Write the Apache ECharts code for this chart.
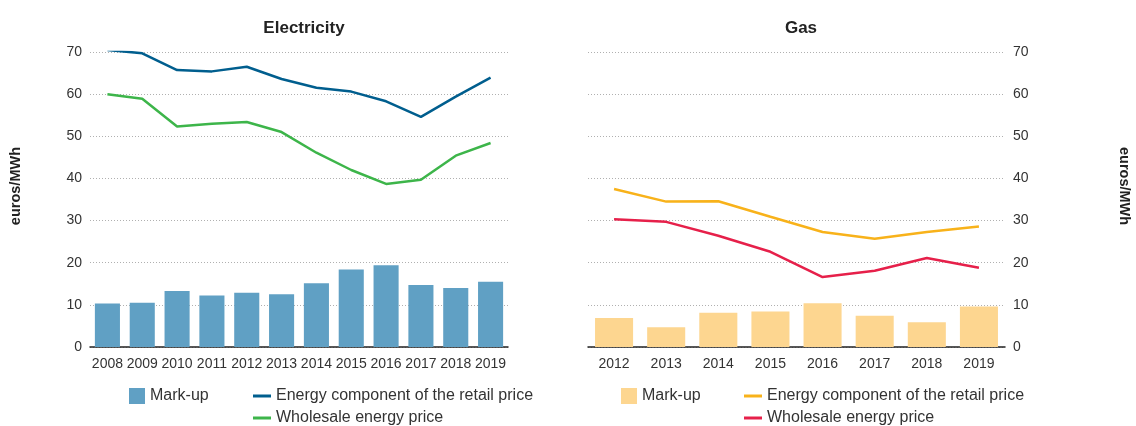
<!DOCTYPE html>
<html>
<head>
<meta charset="utf-8">
<script src="https://cdn.jsdelivr.net/npm/echarts@6/dist/echarts.min.js"></script>
<style>
  html, body { margin: 0; padding: 0; background: #fff; }
  #chart { width: 1136px; height: 426px; }
</style>
</head>
<body>
<div id="chart"></div>
<script>
// electricity panel
const elecYears = ['2008', '2009', '2010', '2011', '2012', '2013', '2014', '2015', '2016', '2017', '2018', '2019']
const elecMarkup = [10.3, 10.5, 13.3, 12.2, 12.9, 12.5, 15.1, 18.4, 19.4, 14.7, 14.0, 15.5]
const elecRetail = [70.5, 69.7, 65.7, 65.4, 66.5, 63.6, 61.5, 60.6, 58.3, 54.6, 59.4, 63.9]
const elecWholesale = [60.0, 58.9, 52.3, 53.0, 53.4, 51.0, 46.1, 42.0, 38.7, 39.7, 45.4, 48.4]

// gas panel
const gasYears = ['2012', '2013', '2014', '2015', '2016', '2017', '2018', '2019']
const gasMarkup = [6.9, 4.7, 8.1, 8.4, 10.4, 7.4, 5.9, 9.6]
const gasRetail = [37.5, 34.5, 34.6, 30.9, 27.3, 25.7, 27.3, 28.6]
const gasWholesale = [30.3, 29.7, 26.4, 22.6, 16.6, 18.1, 21.1, 18.8]

const yMin = 0
const yMax = 70
const yStep = 10

const SANS = "'Liberation Sans', Arial, sans-serif"

const colors = {
  elecBar: '#60A0C4',
  elecRetail: '#005E8E',
  elecWholesale: '#3DB54A',
  gasBar: '#FDD690',
  gasRetail: '#F8B21A',
  gasWholesale: '#E6204A'
}

const chart = echarts.init(document.getElementById('chart'), null, { renderer: 'canvas' })

function yAxis(gridIndex, position) {
  return {
    type: 'value',
    gridIndex,
    position,
    min: yMin,
    max: yMax,
    interval: yStep,
    axisLine: { show: false },
    axisTick: { show: false },
    axisLabel: { color: '#333', fontFamily: SANS, fontSize: 14, margin: 8 },
    splitLine: { lineStyle: { color: '#b0b0b0', type: [1, 2], width: 1 } }
  }
}

function xAxis(gridIndex, data) {
  return {
    type: 'category',
    gridIndex,
    data,
    axisLine: { lineStyle: { color: '#222', width: 1.5 } },
    axisTick: { show: false },
    axisLabel: { color: '#333', fontFamily: SANS, fontSize: 14, margin: 10, interval: 0 }
  }
}

function lineSeries(name, data, color, idx) {
  return {
    name, type: 'line', data,
    xAxisIndex: idx, yAxisIndex: idx,
    showSymbol: false, symbol: 'none',
    lineStyle: { color, width: 2.5 },
    itemStyle: { color },
    z: 3
  }
}

// one legend per item so each can sit where the reference puts it
function legendItem(name, left, top, color, square) {
  return {
    left, top, padding: 0,
    itemWidth: square ? 16 : 18,
    itemHeight: square ? 16 : 3,
    selectedMode: false,
    textStyle: { color: '#333', fontFamily: SANS, fontSize: 16 },
    data: [{ name, icon: 'rect', itemStyle: { color } }]
  }
}

chart.setOption({
  animation: false,
  title: [
    { text: 'Electricity', left: 299, textAlign: 'center', top: 15,
      textStyle: { fontFamily: SANS, fontWeight: 'bold', fontSize: 17, color: '#222' } },
    { text: 'Gas', left: 796, textAlign: 'center', top: 15,
      textStyle: { fontFamily: SANS, fontWeight: 'bold', fontSize: 17, color: '#222' } }
  ],
  legend: [
    legendItem('Mark-up', 129, 388, colors.elecBar, true),
    legendItem('Energy component of the retail price', 253, 388, colors.elecRetail, false),
    legendItem('Wholesale energy price', 253, 410, colors.elecWholesale, false),
    legendItem('Mark-up', 621, 388, colors.gasBar, true),
    legendItem('Energy component of the retail price', 744, 388, colors.gasRetail, false),
    legendItem('Wholesale energy price', 744, 410, colors.gasWholesale, false)
  ],
  grid: [
    { left: 90, right: 628, top: 52, bottom: 79 },
    { left: 588, right: 131, top: 52, bottom: 79 }
  ],
  xAxis: [xAxis(0, elecYears), xAxis(1, gasYears)],
  yAxis: [yAxis(0, 'left'), yAxis(1, 'right')],
  graphic: [
    { type: 'text', left: 8, top: 147, rotation: Math.PI / 2,
      style: { text: 'euros/MWh', fontFamily: SANS, fontWeight: 'bold', fontSize: 14.5, fill: '#222' } },
    { type: 'text', left: 1116, top: 147, rotation: -Math.PI / 2,
      style: { text: 'euros/MWh', fontFamily: SANS, fontWeight: 'bold', fontSize: 14.5, fill: '#222' } }
  ],
  series: [
    { name: 'Mark-up', type: 'bar', data: elecMarkup, xAxisIndex: 0, yAxisIndex: 0,
      barCategoryGap: '28%', itemStyle: { color: colors.elecBar } },
    lineSeries('Energy component of the retail price', elecRetail, colors.elecRetail, 0),
    lineSeries('Wholesale energy price', elecWholesale, colors.elecWholesale, 0),
    { name: 'Mark-up', type: 'bar', data: gasMarkup, xAxisIndex: 1, yAxisIndex: 1,
      barCategoryGap: '27%', itemStyle: { color: colors.gasBar } },
    lineSeries('Energy component of the retail price', gasRetail, colors.gasRetail, 1),
    lineSeries('Wholesale energy price', gasWholesale, colors.gasWholesale, 1)
  ]
})
</script>
</body>
</html>
